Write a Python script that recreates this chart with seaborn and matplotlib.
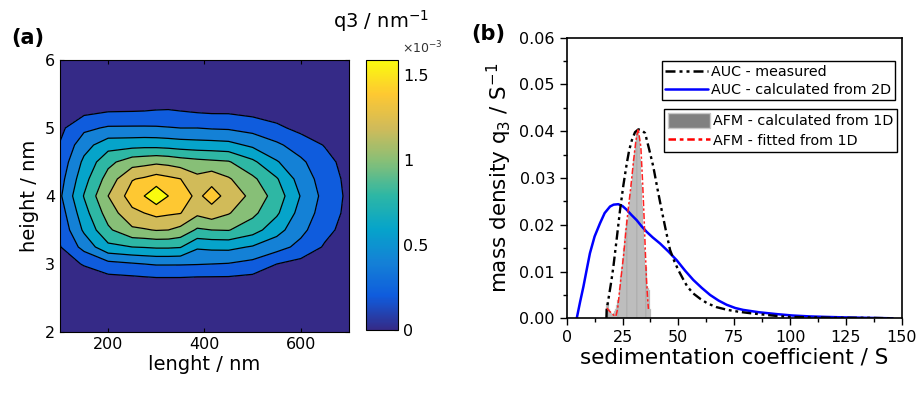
import numpy as np
import pandas as pd
import matplotlib
matplotlib.use("Agg")
import matplotlib.pyplot as plt
import seaborn as sns
from matplotlib.colors import LinearSegmentedColormap, Normalize
from matplotlib.cm import ScalarMappable
from matplotlib.lines import Line2D
from matplotlib.patches import Patch
from matplotlib.ticker import MultipleLocator, FormatStrFormatter

# ---------------- panel (a): 2D q3 distribution (values in 1e-3 nm^-1) ----------------
length_nm = [100, 150, 200, 250, 275, 300, 325, 350, 385, 415, 450, 500, 550, 600, 650, 700]
height_nm = [2.5, 2.75, 3.0, 3.25, 3.5, 3.75, 4.0, 4.25, 4.5, 4.75, 5.0, 5.25, 5.5]
# one list per length column, values from low to high height
q3_L100 = [0.04, 0.08, 0.12, 0.17, 0.22, 0.27, 0.33, 0.29, 0.24, 0.19, 0.14, 0.09, 0.04]
q3_L150 = [0.04, 0.10, 0.19, 0.42, 0.57, 0.65, 0.73, 0.655, 0.58, 0.47, 0.32, 0.13, 0.05]
q3_L200 = [0.04, 0.10, 0.30, 0.675, 0.867, 0.98, 1.08, 0.975, 0.85, 0.646, 0.381, 0.17, 0.06]
q3_L250 = [0.04, 0.11, 0.34, 0.72, 1.047, 1.218, 1.345, 1.25, 1.0, 0.656, 0.383, 0.175, 0.06]
q3_L275 = [0.04, 0.12, 0.36, 0.73, 1.064, 1.26, 1.44, 1.285, 1.02, 0.664, 0.383, 0.18, 0.06]
q3_L300 = [0.05, 0.13, 0.375, 0.744, 1.089, 1.31, 1.57, 1.34, 1.044, 0.66, 0.38, 0.187, 0.07]
q3_L325 = [0.05, 0.13, 0.375, 0.744, 1.08, 1.285, 1.44, 1.30, 1.026, 0.648, 0.37, 0.19, 0.07]
q3_L350 = [0.05, 0.13, 0.374, 0.731, 1.029, 1.267, 1.35, 1.263, 0.99, 0.63, 0.36, 0.18, 0.07]
q3_L385 = [0.05, 0.12, 0.368, 0.564, 0.874, 1.12, 1.22, 1.13, 0.956, 0.615, 0.36, 0.16, 0.06]
q3_L415 = [0.05, 0.12, 0.36, 0.58, 0.90, 1.186, 1.33, 1.203, 0.936, 0.61, 0.345, 0.15, 0.05]
q3_L450 = [0.05, 0.12, 0.35, 0.585, 0.908, 1.093, 1.20, 1.10, 0.916, 0.595, 0.337, 0.15, 0.05]
q3_L500 = [0.04, 0.10, 0.304, 0.524, 0.797, 0.944, 1.03, 0.937, 0.758, 0.504, 0.293, 0.12, 0.04]
q3_L550 = [0.03, 0.08, 0.18, 0.43, 0.608, 0.749, 0.82, 0.737, 0.556, 0.392, 0.216, 0.09, 0.03]
q3_L600 = [0.02, 0.05, 0.12, 0.307, 0.409, 0.469, 0.53, 0.461, 0.393, 0.276, 0.13, 0.06, 0.02]
q3_L650 = [0.01, 0.04, 0.09, 0.16, 0.23, 0.28, 0.30, 0.28, 0.24, 0.17, 0.11, 0.05, 0.02]
q3_L700 = [0.00, 0.01, 0.04, 0.07, 0.11, 0.13, 0.14, 0.13, 0.11, 0.08, 0.05, 0.02, 0.01]
q3_levels = [0, 0.18, 0.36, 0.54, 0.72, 0.90, 1.08, 1.26, 1.44, 1.60]
q3_max = 1.59
cbar_ticks = [0, 0.5, 1, 1.5]
cbar_ticklabels = ["0", "0.5", "1", "1.5"]
a_xticks = [200, 400, 600]
a_yticks = [2, 3, 4, 5, 6]

# ---------------- panel (b): sedimentation coefficient distributions ----------------
auc_meas_s = [17.8, 17.9, 19.0, 20.0, 20.9, 22.4, 23.9, 25.4, 26.9, 28.0, 29.2, 30.6, 32.1,
              33.6, 35.1, 37.0, 38.8, 40.6, 42.5, 44.4, 46.3, 48.2, 50.0, 52.0, 54.0, 56.7,
              60.0, 63.0, 67.0, 72.0, 77.0, 82.0, 88.0, 94.0, 100.0, 110.0, 120.0, 135.0, 146.0]
auc_meas_q3 = [0.0, 0.0019, 0.005, 0.008, 0.011, 0.017, 0.0232, 0.0285, 0.0331, 0.036, 0.0381,
               0.0398, 0.0404, 0.0402, 0.0396, 0.036, 0.0324, 0.0278, 0.0232, 0.0188, 0.0146,
               0.0122, 0.0103, 0.0085, 0.0068, 0.0053, 0.0041, 0.0032, 0.0024, 0.0018, 0.0014,
               0.0011, 0.0008, 0.0005, 0.0003, 0.0002, 0.0001, 0.0001, 0.0]
auc_calc_s = [4.5, 6.0, 7.5, 9.0, 10.4, 12.5, 14.9, 17.0, 19.4, 21.0, 23.1, 25.0, 26.9, 29.0,
              31.3, 33.5, 35.8, 38.5, 41.8, 45.5, 49.3, 53.0, 56.7, 60.5, 64.2, 68.0, 71.6,
              75.5, 79.0, 86.0, 94.0, 101.0, 109.0, 116.0, 124.0, 135.0, 146.0]
auc_calc_q3 = [0.0, 0.0035, 0.0068, 0.0105, 0.0139, 0.0175, 0.0203, 0.0225, 0.0239, 0.0243,
               0.0244, 0.0240, 0.0232, 0.0221, 0.0210, 0.0197, 0.0185, 0.0173, 0.0160, 0.0143,
               0.0124, 0.0102, 0.0082, 0.0065, 0.0050, 0.0038, 0.0029, 0.0022, 0.0018, 0.0013,
               0.0009, 0.0006, 0.0004, 0.0003, 0.0002, 0.0001, 0.0]
afm_s = [18.0, 18.5, 19.0, 19.5, 20.0, 20.5, 21.0, 21.5, 22.0, 22.5, 23.0, 23.5, 24.0, 24.5,
         25.0, 25.5, 26.0, 26.5, 27.0, 27.5, 28.0, 28.5, 29.0, 29.5, 30.0, 30.5, 31.0, 31.5,
         32.0, 32.5, 33.0, 33.5, 34.0, 34.5, 35.0, 35.5, 36.0, 36.5, 37.0, 37.5]
afm_q3 = [0.003, 0.0035, 0.002, 0.0015, 0.0012, 0.001, 0.0012, 0.0015, 0.002, 0.0028, 0.004,
          0.0065, 0.009, 0.011, 0.013, 0.015, 0.017, 0.019, 0.021, 0.023, 0.025, 0.027, 0.029,
          0.031, 0.034, 0.036, 0.038, 0.0403, 0.040, 0.0385, 0.034, 0.029, 0.024, 0.019, 0.015,
          0.011, 0.007, 0.0065, 0.006, 0.002]
afm_fit_s = [18.0, 19.0, 20.0, 21.0, 22.0, 22.8, 24.3, 25.5, 26.5, 27.6, 28.7, 29.9, 31.0,
             32.0, 33.2, 34.0, 34.7, 35.2, 35.7, 36.2, 36.6]
afm_fit_q3 = [0.0022, 0.0016, 0.0011, 0.0007, 0.0004, 0.002, 0.0086, 0.0135, 0.0187, 0.0235,
              0.028, 0.0335, 0.038, 0.0405, 0.0367, 0.029, 0.021, 0.0145, 0.0086, 0.0045, 0.002]
legend1_labels = ["AUC - measured", "AUC - calculated from 2D"]
legend2_labels = ["AFM - calculated from 1D", "AFM - fitted from 1D"]

# ---------------- style ----------------
sns.set_style("ticks")
plt.rcParams["font.family"] = ["DejaVu Sans"]
plt.rcParams["axes.linewidth"] = 1.0
for key in ["text.color", "axes.labelcolor", "xtick.color", "ytick.color", "axes.edgecolor"]:
    plt.rcParams[key] = "black"

parula_keys = ["#352a87", "#0f5cdd", "#1481d6", "#06a4ca", "#2eb7a4",
               "#87bf77", "#d1bb59", "#fec832", "#f9fb0e"]
parula = LinearSegmentedColormap.from_list("parula_like", parula_keys)

fig = plt.figure(figsize=(9.21, 3.96), dpi=100)

# ---------------- panel (a) ----------------
axa = fig.add_axes([0.0651, 0.1616, 0.3138, 0.6869])
Z = np.column_stack([q3_L100, q3_L150, q3_L200, q3_L250, q3_L275, q3_L300, q3_L325, q3_L350,
                     q3_L385, q3_L415, q3_L450, q3_L500, q3_L550, q3_L600, q3_L650, q3_L700])
axa.set_facecolor(parula_keys[0])
axa.contourf(length_nm, height_nm, Z, levels=q3_levels, colors=parula_keys)
axa.contour(length_nm, height_nm, Z, levels=q3_levels[1:-1], colors="black", linewidths=0.9)
axa.set_xlim(100, 700)
axa.set_ylim(2, 6)
axa.set_xticks(a_xticks)
axa.set_yticks(a_yticks)
axa.tick_params(direction="in", length=3, top=True, right=True, labelsize=11.5, width=0.8)
axa.set_xlabel("lenght / nm", fontsize=14, labelpad=2)
axa.set_ylabel("height / nm", fontsize=14, labelpad=4)
for sp in axa.spines.values():
    sp.set_visible(True)
    sp.set_linewidth(0.8)

cax = fig.add_axes([0.3974, 0.1667, 0.0347, 0.6818])
sm = ScalarMappable(norm=Normalize(0, q3_max), cmap=parula)
cb = fig.colorbar(sm, cax=cax)
cb.set_ticks(cbar_ticks)
cb.set_ticklabels(cbar_ticklabels)
cax.tick_params(direction="in", length=3, labelsize=11.5, width=0.8)
cb.outline.set_linewidth(0.8)
fig.text(0.414, 0.93, "q3 / nm$^{-1}$", fontsize=14, ha="center", va="baseline")
fig.text(0.4805, 0.866, "\u00d710$^{-3}$", fontsize=9, ha="right", va="baseline", color="#333333")
fig.text(0.012, 0.905, "(a)", fontsize=15, fontweight="bold", ha="left", va="center")

# ---------------- panel (b) ----------------
axb = fig.add_axes([0.6153, 0.1962, 0.3637, 0.7086])
afm_df = pd.DataFrame({"s": afm_s, "q3": afm_q3})
afm_edges = list(np.append(np.array(afm_s) - 0.25, afm_s[-1] + 0.25))
sns.histplot(data=afm_df, x="s", weights="q3", bins=afm_edges, ax=axb, color="#a9a9a9",
             edgecolor="#d6d6d6", linewidth=0.25, alpha=1.0)
sns.lineplot(x=auc_calc_s, y=auc_calc_q3, ax=axb, color="#0000ff", lw=1.8,
             sort=False, estimator=None)
sns.lineplot(x=auc_meas_s, y=auc_meas_q3, ax=axb, color="black", lw=1.7,
             sort=False, estimator=None)
axb.lines[-1].set_dashes((4, 1.6, 1.2, 1.6, 1.2, 1.6))
sns.lineplot(x=afm_fit_s, y=afm_fit_q3, ax=axb, color="#ff2020", lw=1.1,
             sort=False, estimator=None)
axb.lines[-1].set_dashes((4, 1.5, 1.5, 1.5))

axb.set_xlim(0, 150)
axb.set_ylim(0, 0.06)
axb.xaxis.set_major_locator(MultipleLocator(25))
axb.xaxis.set_minor_locator(MultipleLocator(12.5))
axb.yaxis.set_major_locator(MultipleLocator(0.01))
axb.yaxis.set_minor_locator(MultipleLocator(0.005))
axb.yaxis.set_major_formatter(FormatStrFormatter("%.2f"))
axb.tick_params(which="major", direction="out", length=5, width=1.0, labelsize=11.5)
axb.tick_params(which="minor", direction="out", length=3, width=1.0)
for sp in axb.spines.values():
    sp.set_visible(True)
    sp.set_linewidth(1.2)
axb.set_xlabel("sedimentation coefficient / S", fontsize=15.5, labelpad=2)
axb.set_ylabel("mass density q$_3$ / S$^{-1}$", fontsize=15.5, labelpad=4)

h1 = [Line2D([], [], color="black", lw=1.8, dashes=(4, 1.6, 1.2, 1.6, 1.2, 1.6)),
      Line2D([], [], color="#0000ff", lw=1.8)]
leg1 = axb.legend(h1, legend1_labels, loc="upper right", bbox_to_anchor=(0.98, 0.917),
                  fontsize=10.3, frameon=True, fancybox=False, edgecolor="black",
                  framealpha=1, borderpad=0.25, labelspacing=0.3, handlelength=3.0,
                  handletextpad=0.2, borderaxespad=0)
leg1.get_frame().set_linewidth(1.0)
axb.add_artist(leg1)
h2 = [Patch(facecolor="#808080", edgecolor="#c8c8c8"),
      Line2D([], [], color="#ff0000", lw=1.8, dashes=(3, 1.5, 1.5, 1.5))]
leg2 = axb.legend(h2, legend2_labels, loc="upper right", bbox_to_anchor=(0.987, 0.746),
                  fontsize=10.3, frameon=True, fancybox=False, edgecolor="black",
                  framealpha=1, borderpad=0.25, labelspacing=0.3, handlelength=3.0,
                  handleheight=1.3, handletextpad=0.2, borderaxespad=0)
leg2.get_frame().set_linewidth(1.0)
fig.text(0.512, 0.915, "(b)", fontsize=15, fontweight="bold", ha="left", va="center")

fig.savefig("out.png", dpi=100)
